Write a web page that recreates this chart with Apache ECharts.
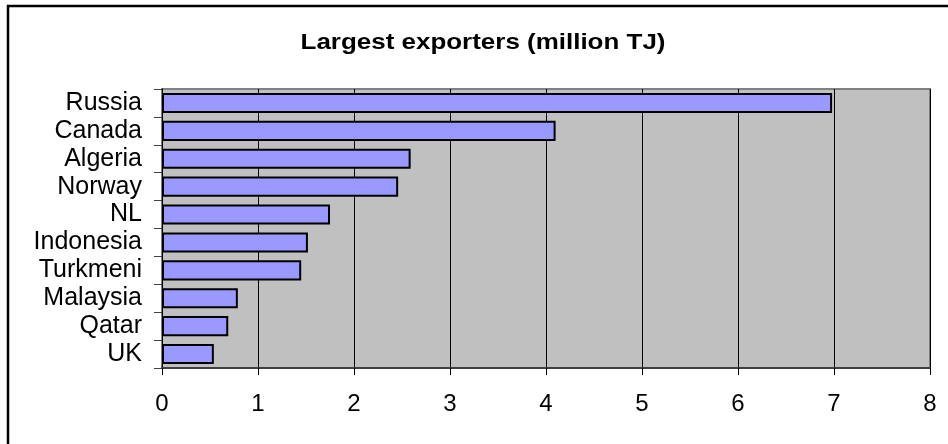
<!DOCTYPE html>
<html>
<head>
<meta charset="utf-8">
<script src="https://cdn.jsdelivr.net/npm/echarts@6/dist/echarts.min.js"></script>
<style>
  html, body { margin: 0; padding: 0; background: #ffffff; }
  #chart { width: 948px; height: 444px; }
</style>
</head>
<body>
<div id="chart"></div>
<script>
// Natural gas exporters, million TJ
const countries = ['Russia', 'Canada', 'Algeria', 'Norway', 'NL', 'Indonesia', 'Turkmeni', 'Malaysia', 'Qatar', 'UK'];
const exportsTJ = [6.98, 4.1, 2.59, 2.46, 1.75, 1.52, 1.45, 0.79, 0.69, 0.54];
const xTicks = [0, 1, 2, 3, 4, 5, 6, 7, 8];
const chartTitle = 'Largest exporters (million TJ)';

const chart = echarts.init(document.getElementById('chart'), null, { renderer: 'canvas' });
const font = '"Liberation Sans", Arial, sans-serif';

chart.setOption({
  animation: false,
  backgroundColor: '#ffffff',
  graphic: [
    {
      // frame around the chart area
      type: 'rect',
      shape: { x: 8, y: 6, width: 980, height: 480 },
      style: { fill: null, stroke: '#000000', lineWidth: 2.5 },
      silent: true,
      z: 100
    },
    {
      // title, drawn slightly wide like the exported chart text
      type: 'text',
      x: 483,
      y: 43,
      originX: 0,
      scaleX: 1.18,
      style: {
        text: chartTitle,
        font: 'bold 22px "Liberation Sans", Arial, sans-serif',
        fill: '#000000',
        textAlign: 'center',
        textVerticalAlign: 'middle'
      },
      silent: true
    }
  ],
  grid: {
    left: 162,
    right: 18,
    top: 89,
    bottom: 76,
    show: true,
    backgroundColor: '#C0C0C0',
    borderColor: '#808080',
    borderWidth: 2
  },
  xAxis: {
    type: 'value',
    min: xTicks[0],
    max: xTicks[xTicks.length - 1],
    interval: 1,
    axisLine: { show: true, lineStyle: { color: '#404040', width: 2 } },
    axisTick: { show: true, length: 7, lineStyle: { color: '#000000', width: 1 } },
    axisLabel: { margin: 24, fontFamily: font, fontSize: 24, color: '#000000' },
    splitLine: { show: true, lineStyle: { color: '#000000', width: 1 } }
  },
  yAxis: {
    type: 'category',
    inverse: true,
    data: countries,
    axisLine: { show: true, lineStyle: { color: '#000000', width: 1 } },
    axisTick: { show: true, length: 8, interval: 0, lineStyle: { color: '#404040', width: 1 } },
    axisLabel: { interval: 0, margin: 20, fontFamily: font, fontSize: 25, color: '#000000' },
    splitLine: { show: false }
  },
  series: [{
    type: 'bar',
    data: exportsTJ,
    barCategoryGap: '28%',
    itemStyle: { color: '#9999FF', borderColor: '#000000', borderWidth: 2 }
  }]
});
</script>
</body>
</html>
